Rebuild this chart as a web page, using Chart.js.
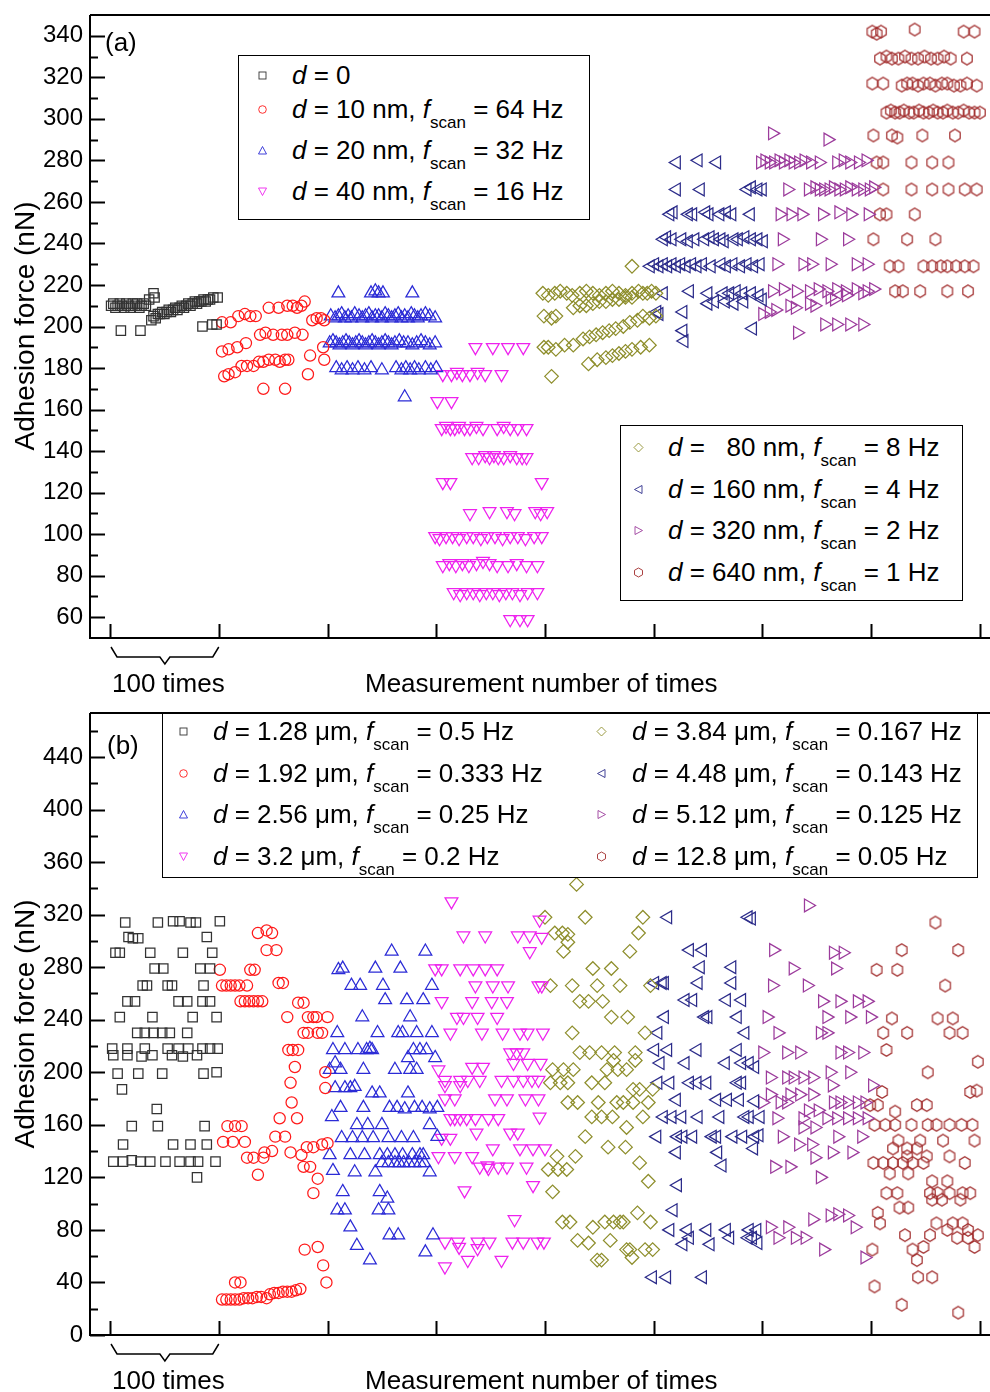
<!DOCTYPE html>
<html>
<head>
<meta charset="utf-8">
<script src="https://cdn.jsdelivr.net/npm/chart.js@4.4.1/dist/chart.umd.min.js"></script>
<style>
  body { margin: 0; background: #fff; width: 990px; height: 1392px; overflow: hidden; position: relative;
         font-family: "Liberation Sans", Arial, sans-serif; color: #000; }
  canvas { position: absolute; left: 0; }
  #ca { top: 0; }
  #cb { top: 700px; }
  .t { position: absolute; font-size: 26px; line-height: 26px; white-space: pre; }
  .box { position: absolute; border: 1.5px solid #000; background: #fff; box-sizing: border-box; }
  .row { position: absolute; font-size: 26px; line-height: 30px; height: 30px; white-space: pre; }
  .row sub { font-size: 17px; position: relative; top: 10px; vertical-align: baseline; }
  .mk { position: absolute; width: 11px; height: 11px; }
  .yt { position: absolute; width: 400px; height: 30px; line-height: 30px; font-size: 28px;
        text-align: center; transform: rotate(-90deg); white-space: pre; }
</style>
</head>
<body>
<canvas id="ca" width="990" height="700"></canvas>
<canvas id="cb" width="990" height="692"></canvas>

<div class="t" style="left:105px;top:29px">(a)</div>
<div class="t" style="left:107px;top:732px">(b)</div>
<div class="t" style="left:112px;top:670px">100 times</div>
<div class="t" style="left:365px;top:670px">Measurement number of times</div>
<div class="t" style="left:112px;top:1367px">100 times</div>
<div class="t" style="left:365px;top:1367px">Measurement number of times</div>
<div class="yt" style="left:-175px;top:311px">Adhesion force (nN)</div>
<div class="yt" style="left:-175px;top:1009px">Adhesion force (nN)</div>

<div id="legends"></div>

<script>
// ---- panel (a): [measurement index, adhesion force nN] ----
const a_d0 = [[1,210],[3,211],[5,209],[7,210],[9,211],[11,210],[13,209],[15,211],[17,210],[19,209],[21,211],[23,210],[25,211],[27,209],[29,210],[31,211],[33,210],
  [36,213],[40,216],[41,214],
  [38,203],[40,205],[42,204],[44,206],[46,206],[48,207],[50,206],[52,207],[54,208],[56,207],[58,208],[60,209],[62,208],[64,209],[66,210],[68,209],[70,210],[72,211],[74,210],[76,211],[78,212],[80,211],[82,212],[84,212],[86,213],[88,212],[90,213],[92,213],[95,214],[99,214],
  [10,198],[28,198],[85,200],[94,201],[98,201]];
const a_d10 = [[103,202],[111,202],[118,205],[124,206],[129,205],[134,205],[146,209],[155,209],[163,210],[168,210],[172,209],[176,210],[179,212],[186,203],[190,204],[194,204],[197,203],
  [103,188],[109,189],[117,190],[125,192],[138,196],[143,197],[150,196],[158,196],[163,196],[170,197],[177,196],[184,186],[196,190],
  [105,176],[109,177],[115,178],[121,181],[126,181],[132,181],[137,183],[141,183],[146,184],[152,184],[156,183],[161,184],[164,184],
  [141,170],[161,170],[182,177],[197,184]];
const a_d20 = [[210,216],[240,216],[244,217],[247,216],[251,216],[278,216],
  [203,205],[207,204],[210,205],[213,206],[216,204],[219,205],[222,204],[225,206],[229,205],[232,204],[235,205],[238,206],[241,204],[244,205],[247,205],[250,204],[253,206],[256,205],[259,204],[262,205],[265,206],[268,204],[271,205],[274,204],[277,206],[280,205],[283,204],[286,205],[290,206],[294,205],[299,204],
  [202,192],[205,193],[208,192],[211,191],[214,192],[217,193],[220,192],[223,191],[226,192],[229,193],[232,192],[235,191],[238,192],[241,193],[244,192],[247,191],[250,192],[253,193],[256,192],[259,191],[262,192],[266,193],[270,192],[274,192],[278,191],[282,192],[286,193],[290,192],[294,191],[299,192],
  [208,180],[213,179],[218,180],[223,179],[228,180],[234,179],[240,180],[250,179],[263,180],[268,179],[272,180],[276,179],[280,180],[284,179],[290,180],[295,179],[300,180],
  [271,166]];
const a_d40 = [[336,190],[352,190],[366,190],[380,190],
  [306,177],[314,177],[319,178],[324,177],[331,177],[338,178],[345,177],[360,177],
  [301,164],[314,164],
  [305,151],[309,152],[313,151],[317,151],[321,152],[326,151],[331,151],[337,152],[343,151],[356,151],[362,152],[368,151],[375,151],[383,151],
  [333,137],[339,137],[345,138],[349,137],[353,138],[357,137],[362,137],[368,138],[374,137],[379,137],[383,137],
  [306,125],[313,125],[397,125],
  [331,110],[349,111],[365,111],[372,110],[391,111],[396,110],[402,111],
  [299,99],[303,98],[309,99],[315,99],[321,98],[328,99],[334,99],[341,98],[347,99],[354,99],[361,98],[368,99],[375,99],[382,98],[390,99],[397,99],
  [306,85],[312,86],[318,85],[324,86],[330,85],[337,86],[343,87],[349,86],[356,85],[366,85],[374,86],[383,85],[393,85],
  [316,72],[322,71],[328,72],[334,72],[340,71],[346,72],[352,72],[358,71],[364,72],[370,72],[377,71],[384,72],[393,72],
  [368,59],[377,59],[384,59]];
const a_d80 = [[398,216],[403,215],[409,216],[414,217],[420,216],[425,215],[432,216],[438,217],[444,216],[450,215],[456,216],[462,217],[468,216],[474,215],[480,216],[486,217],[490,216],[494,216],[498,217],[502,216],
  [399,205],[406,204],[410,205],[426,209],[432,210],[438,210],[444,211],[450,212],[456,212],[462,213],[468,213],[474,214],[480,214],[490,205],[496,204],[502,205],
  [399,190],[403,190],[410,189],[418,191],[426,191],[435,194],[441,195],[447,196],[453,197],[459,198],[465,199],[472,200],[478,202],[485,203],
  [440,182],[448,184],[456,185],[462,186],[468,187],[474,188],[480,189],[488,190],[496,191],
  [406,176],[480,229]];
const a_d160 = [[521,279],[541,280],[558,279],
  [521,266],[543,266],[586,266],[590,267],[596,266],[600,266],
  [515,254],[518,255],[532,254],[536,254],[548,255],[551,254],[561,254],[567,255],[572,254],[589,254],
  [509,242],[512,243],[517,242],[526,242],[532,241],[538,242],[547,242],[552,243],[556,242],[562,242],[565,241],[574,242],[578,242],[584,243],[590,242],[596,242],[601,241],
  [497,229],[501,230],[505,229],[509,230],[513,229],[517,230],[521,229],[525,230],[530,229],[535,230],[540,229],[545,230],[553,229],[562,230],[567,229],[573,230],[580,229],[586,230],[592,229],[598,230],
  [509,216],[533,217],[550,216],[564,216],[570,216],[576,217],[582,216],[590,216],[597,215],
  [550,211],[556,212],[566,212],[574,211],[583,212],
  [503,207],[505,206],[527,207],[527,198],[528,193],[591,199],[600,213]];
const a_d320 = [[609,293],[660,290],
  [598,279],[602,280],[606,279],[610,279],[615,280],[619,279],[624,280],[628,279],[633,279],[638,280],[644,279],[652,279],[668,279],[674,280],[680,279],[688,279],[695,280],
  [623,266],[642,266],[648,267],[652,266],[656,266],[661,266],[665,267],[670,266],[675,266],[680,267],[686,266],[692,266],[698,266],[702,267],
  [616,254],[626,254],[636,254],[655,254],[670,255],[681,254],[697,254],
  [618,242],[653,242],[678,242],
  [613,230],[637,230],[645,230],[662,230],[686,230],[696,230],
  [609,217],[619,218],[631,217],[643,217],[651,218],[659,217],[668,218],[676,217],[686,218],[696,217],[702,218],
  [600,206],[606,207],[612,208],[625,210],[630,209],[643,211],[648,210],[662,214],[666,213],[677,215],[692,216],
  [657,201],[668,201],[680,201],[692,201],[632,197]];
const a_d640 = [[701,342],[705,341],[709,342],[740,343],[785,342],[795,342],
  [708,329],[714,330],[719,329],[725,329],[731,330],[737,329],[743,329],[749,330],[755,329],[761,329],[767,330],[773,329],[788,329],
  [701,317],[711,317],[728,316],[733,317],[738,317],[743,316],[748,317],[754,317],[759,316],[765,317],[770,317],[776,316],[782,316],[788,317],[797,316],
  [714,303],[718,304],[722,303],[726,303],[730,304],[735,303],[739,303],[744,304],[748,303],[753,303],[757,304],[761,303],[766,303],[770,304],[775,303],[780,303],[785,304],[790,303],[795,303],[800,303],
  [702,292],[719,292],[724,291],[747,292],[777,292],
  [705,279],[711,279],[737,279],[756,279],[771,279],
  [711,266],[737,266],[756,266],[771,266],[786,266],[797,266],
  [708,254],[714,254],[740,254],
  [702,242],[733,242],[759,242],
  [717,229],[725,229],[748,229],[756,229],[764,229],[770,229],[778,229],[786,229],[794,229],
  [722,217],[729,217],[745,217],[770,217],[789,217]];

// ---- panel (b) ----
const b_d128 = [[14,314],[44,314],[58,315],[64,315],[74,314],[79,314],[101,315],
  [17,303],[21,302],[26,302],[89,303],
  [5,291],[9,291],[37,291],[67,291],[94,291],
  [41,279],[49,279],[83,279],[92,279],
  [30,266],[34,266],[53,266],[57,266],[86,266],
  [16,254],[23,254],[63,254],[71,254],[85,254],[92,254],
  [9,242],[39,242],[76,242],[98,242],
  [25,230],[32,230],[40,230],[48,230],[55,230],[71,230],
  [2,218],[16,218],[32,218],[53,218],[63,218],[72,218],[85,218],[92,218],[99,218],
  [3,213],[16,213],[29,212],[39,213],[57,213],[67,212],[80,213],
  [7,199],[26,199],[48,199],[86,199],[98,200],
  [11,187],[43,172],
  [20,159],[44,159],[87,159],
  [12,145],[58,145],[74,145],[89,145],
  [3,132],[12,132],[20,133],[28,132],[37,132],[51,132],[64,132],[74,132],[81,132],[97,132],
  [80,120]];
const b_d192 = [[136,306],[144,308],[149,306],[144,293],[153,293],
  [101,278],[129,278],[133,278],
  [103,266],[107,266],[111,266],[115,266],[119,266],[126,266],[155,268],[159,268],
  [120,254],[124,254],[128,254],[132,254],[136,254],[140,254],[173,253],[178,253],
  [163,242],[182,242],[187,242],[190,242],[200,242],
  [178,230],[182,230],[191,230],[195,230],
  [164,217],[168,217],[173,217],
  [170,204],[198,200],[166,192],[198,188],[167,177],
  [156,165],[172,165],
  [108,159],[115,159],[121,159],
  [152,151],[161,151],
  [104,147],[113,147],[124,147],[200,146],
  [181,143],[187,143],[195,145],
  [142,139],[149,140],[166,139],[176,137],
  [126,135],[132,135],[141,135],
  [178,128],[184,128],
  [136,122],[191,119],[187,108],
  [179,65],[191,67],[196,53],[199,40],
  [115,40],[120,40],
  [103,27],[107,27],[111,27],[115,27],[119,27],[123,28],[127,28],[131,28],[135,29],[139,29],[144,28],
  [147,31],[151,32],[155,32],[159,33],[163,33],[167,33],[171,34],[175,35]];
const b_d256 = [[259,292],[290,292],
  [210,278],[214,279],[244,279],[267,279],
  [222,266],[230,266],[251,266],[296,266],
  [253,255],[273,255],[288,255],
  [232,242],[276,242],
  [209,230],[246,230],[265,230],[269,230],[282,230],[296,230],
  [205,217],[216,217],[228,217],[236,217],[239,218],[241,217],[279,217],[285,217],[291,217],
  [274,211],[299,211],
  [202,202],[207,207],[212,202],[233,202],[262,202],[276,202],[282,202],
  [207,188],[216,188],[221,188],[225,189],
  [241,184],[248,184],[274,184],
  [212,173],[233,173],[257,173],[264,173],[271,172],[280,173],[287,173],[294,172],[301,173],
  [204,166],
  [227,160],[237,160],[250,160],[294,160],
  [213,150],[223,150],[232,150],[242,150],[256,150],[268,150],[279,150],[301,151],
  [202,137],[221,137],[234,137],[248,137],[255,137],[262,137],[269,137],[278,137],[285,137],[288,137],
  [250,131],[256,131],[262,131],[266,131],[270,131],[275,131],[280,131],[285,131],[289,131],
  [205,125],[225,124],[244,124],[294,124],
  [214,109],[248,109],[255,104],
  [209,95],[216,95],[247,95],[256,95],
  [221,82],[257,76],[265,76],[297,76],[227,68],[290,63],[239,57]];
const b_d32 = [[314,330],
  [325,304],[345,304],[375,304],[386,304],
  [386,292],[397,303],[395,316],
  [299,279],[305,279],[322,279],[334,279],[345,279],[356,279],
  [336,266],[352,266],[366,266],[394,266],[397,266],
  [305,254],[333,254],[351,254],[365,254],
  [319,242],[325,242],[338,242],[356,242],
  [313,230],[342,230],[361,230],[377,230],[384,230],[398,230],
  [368,215],[374,215],[380,215],
  [371,207],[384,207],[396,207],
  [333,204],[343,204],[302,202],
  [308,194],[322,194],[329,194],[340,194],[360,194],[371,194],[380,194],[388,194],[394,194],
  [308,190],[322,190],
  [308,180],[317,180],[354,180],[365,180],[382,180],[394,180],
  [313,165],[317,165],[322,165],[328,165],[336,165],[348,165],[357,165],[395,166],
  [337,154],[368,154],[375,154],
  [305,150],[313,150],
  [352,142],[377,142],[389,142],[400,142],
  [302,136],[317,136],[333,136],
  [340,128],[347,129],[348,127],[357,128],[365,128],[383,128],
  [389,114],[326,110],[372,88],
  [308,71],[320,71],[338,71],[349,71],[370,71],[380,71],[393,71],[399,71],
  [321,67],[338,66],
  [329,57],[360,57],[308,52]];
const b_d384 = [[429,343],
  [400,318],[437,318],[490,318],
  [409,306],[416,306],[421,305],[486,306],
  [421,299],[417,292],[478,292],
  [444,279],[461,279],
  [405,266],[425,266],[448,266],[469,266],[497,266],
  [432,254],[440,254],[453,254],
  [461,242],[476,242],
  [425,230],[492,230],
  [432,215],[441,215],[452,215],[464,215],[483,215],
  [463,209],[483,209],
  [407,202],[417,202],[426,202],[457,202],[467,202],[475,202],
  [405,192],[414,192],[421,192],[443,192],[455,192],
  [481,187],[487,187],[499,187],
  [421,177],[430,177],[449,177],[466,177],[472,177],[481,177],[495,177],
  [443,166],[452,166],[462,166],[490,166],
  [475,158],[437,151],[458,143],[474,143],
  [411,136],[428,136],[487,131],
  [403,126],[412,126],[420,126],
  [495,117],[407,109],[485,93],
  [416,86],[423,86],[455,86],[463,86],[469,86],[472,86],[497,86],
  [444,82],[430,72],[460,72],[440,70],
  [475,65],[478,65],[492,65],[499,65],[480,59],
  [448,57],[452,57]];
const b_d448 = [[513,318],[587,318],[590,317],
  [533,293],[545,293],
  [543,280],[572,280],
  [501,268],[508,268],[510,268],[541,268],[572,268],
  [529,255],[536,255],[567,255],[581,255],
  [510,242],[547,242],[550,242],[577,242],
  [504,230],[584,230],
  [501,217],[513,217],[540,217],[577,217],
  [506,207],[529,207],[566,207],[581,207],[588,207],[593,204],
  [504,192],[515,192],[533,192],[540,192],[549,192],[577,192],[581,192],
  [521,179],[558,179],[568,179],[579,179],[593,178],
  [509,166],[517,166],[526,166],[541,166],[561,166],[584,166],[588,166],[598,166],
  [503,151],[522,151],[527,151],[536,151],[554,151],[558,151],[573,151],[582,151],[593,151],[597,152],
  [592,142],[521,139],[559,139],[563,129],
  [522,114],[518,95],
  [515,80],[531,80],[549,80],[567,80],[588,80],[595,80],
  [533,74],[570,74],[587,74],[591,74],[596,70],
  [527,69],[552,69],
  [499,44],[512,44],[545,44]];
const b_d512 = [[642,327],
  [610,293],[665,291],[674,291],
  [628,279],[667,279],
  [609,266],[641,266],
  [655,254],[671,254],[687,254],[696,254],
  [604,242],[659,242],[680,242],[699,242],
  [614,230],[653,230],[659,230],
  [600,215],[622,215],[634,215],[671,215],[678,215],[692,215],
  [662,200],[680,200],
  [607,196],[622,196],[628,196],[637,196],[646,196],
  [664,190],[701,190],
  [607,183],[625,183],[634,183],[646,183],
  [600,177],[616,177],[622,177],[665,177],[671,177],[678,177],[687,177],[694,177],
  [642,171],[651,171],
  [613,165],[637,165],[659,165],[668,165],[678,165],[687,165],[696,165],
  [637,158],[648,158],
  [618,151],[669,151],[691,151],
  [633,145],[645,145],
  [664,139],[682,139],[648,135],
  [611,128],[625,128],[653,120],
  [662,91],[669,92],[678,91],[646,88],
  [607,82],[623,82],[685,82],
  [614,74],[630,74],[639,74],
  [656,65],[694,59]];
const b_d1280 = [[759,314],
  [728,293],[780,293],
  [705,278],[724,278],
  [768,266],
  [719,241],[761,241],[775,241],
  [711,230],[733,230],[772,230],[784,230],
  [714,217],[798,208],[752,200],
  [710,185],[791,185],[797,186],
  [699,175],[706,175],[742,175],[751,175],
  [722,170],
  [703,160],[713,160],[722,160],[737,160],[752,160],[760,160],[772,160],[783,160],[793,160],
  [725,148],[745,148],[766,148],[795,148],
  [720,142],[733,142],[742,142],
  [733,136],[751,136],[772,136],
  [702,131],[711,131],[720,131],[729,131],[738,131],[748,131],[786,131],
  [717,123],[734,123],
  [756,117],[770,117],
  [714,108],[724,108],[754,108],[761,108],[772,108],[784,108],[791,108],
  [756,103],[765,103],[782,103],
  [726,97],[734,97],[706,93],
  [708,85],[760,85],[775,85],[784,85],
  [770,80],[789,80],
  [731,76],[754,76],[798,76],
  [779,74],[789,74],
  [748,67],[795,67],
  [738,65],[701,65],[742,57],
  [743,44],[756,44],[703,37],[728,23],[780,17]];

// ---- axes ----
const xTicks = [0, 100, 200, 300, 400, 500, 600, 700, 800];
const yMajorA = [60, 80, 100, 120, 140, 160, 180, 200, 220, 240, 260, 280, 300, 320, 340];
const yMinorA = [70, 90, 110, 130, 150, 170, 190, 210, 230, 250, 270, 290, 310, 330];
const yMajorB = [0, 40, 80, 120, 160, 200, 240, 280, 320, 360, 400, 440];
const yMinorB = [20, 60, 100, 140, 180, 220, 260, 300, 340, 380, 420, 460];

const COL = {
  black: '#333333', red: '#ff1a1a', blue: '#2b2bd6', magenta: '#ee22ee',
  olive: '#8e8e2c', navy: '#2c2c8a', purple: '#9c3c9c', brown: '#a02a2a'
};

function hexagon(color) {
  const c = document.createElement('canvas');
  c.width = 16; c.height = 16;
  const g = c.getContext('2d');
  g.strokeStyle = color; g.lineWidth = 1.2;
  g.beginPath();
  for (let i = 0; i < 6; i++) {
    const a = -Math.PI / 2 + i * Math.PI / 3;
    const px = 8 + 6 * Math.cos(a), py = 8 + 6.2 * Math.sin(a);
    if (i === 0) g.moveTo(px, py); else g.lineTo(px, py);
  }
  g.closePath();
  g.stroke();
  return c;
}

const STYLE = {
  sq: { pointStyle: 'rect', rotation: 0, pointRadius: 6.6 },
  ci: { pointStyle: 'circle', rotation: 0, pointRadius: 5.6 },
  up: { pointStyle: 'triangle', rotation: 0, pointRadius: 7.4 },
  dn: { pointStyle: 'triangle', rotation: 180, pointRadius: 7.4 },
  di: { pointStyle: 'rectRot', rotation: 0, pointRadius: 6.8 },
  lt: { pointStyle: 'triangle', rotation: -90, pointRadius: 7.4 },
  rt: { pointStyle: 'triangle', rotation: 90, pointRadius: 7.4 },
  hx: { pointStyle: hexagon(COL.brown), rotation: 0, pointRadius: 6 }
};

function ds(pts, shape, color) {
  return Object.assign({
    data: pts.map(p => ({ x: p[0], y: p[1] })),
    borderColor: color,
    backgroundColor: 'rgba(0,0,0,0)',
    borderWidth: 1.25,
    showLine: false
  }, STYLE[shape]);
}

// axis frame, inward ticks and the "100 times" brace
const frame = {
  id: 'frame',
  afterDraw(chart, args, o) {
    const { ctx, chartArea: a } = chart;
    const x = chart.scales.x, y = chart.scales.y;
    ctx.save();
    ctx.strokeStyle = '#000';
    ctx.lineWidth = 2;
    ctx.beginPath();
    ctx.moveTo(a.left, a.top); ctx.lineTo(a.right, a.top);
    ctx.moveTo(a.left, a.top); ctx.lineTo(a.left, a.bottom); ctx.lineTo(a.right, a.bottom);
    for (const v of xTicks) {
      const px = Math.round(x.getPixelForValue(v)) + 0.5;
      ctx.moveTo(px, a.bottom); ctx.lineTo(px, a.bottom - 14);
    }
    for (const v of o.major) {
      const py = Math.round(y.getPixelForValue(v)) + 0.5;
      ctx.moveTo(a.left, py); ctx.lineTo(a.left + 15, py);
    }
    for (const v of o.minor) {
      const py = Math.round(y.getPixelForValue(v)) + 0.5;
      ctx.moveTo(a.left, py); ctx.lineTo(a.left + 8, py);
    }
    ctx.stroke();

    const x0 = x.getPixelForValue(0) + 1, x1 = x.getPixelForValue(100);
    const xm = (x0 + x1) / 2, yb = a.bottom + 9;
    ctx.lineWidth = 1.5;
    ctx.beginPath();
    ctx.moveTo(x0, yb);
    ctx.lineTo(x0 + 6, yb + 10);
    ctx.lineTo(xm - 5, yb + 10);
    ctx.lineTo(xm, yb + 17);
    ctx.lineTo(xm + 5, yb + 10);
    ctx.lineTo(x1 - 6, yb + 10);
    ctx.lineTo(x1, yb);
    ctx.stroke();
    ctx.restore();
  }
};

function makeChart(id, datasets, yMin, yMax, step, labelOk, major, minor, padTop, padBottom) {
  return new Chart(document.getElementById(id), {
    type: 'scatter',
    data: { datasets },
    options: {
      responsive: false,
      animation: false,
      events: [],
      layout: { autoPadding: false, padding: { top: padTop, bottom: padBottom, left: 0, right: 0 } },
      plugins: { legend: { display: false }, tooltip: { enabled: false }, frame: { major, minor } },
      scales: {
        x: { type: 'linear', display: false, min: -18.4, max: 809.2 },
        y: {
          type: 'linear', min: yMin, max: yMax,
          grid: { display: false, drawTicks: false },
          border: { display: false },
          afterFit(s) { s.width = 90; s.paddingTop = 0; s.paddingBottom = 0; },
          ticks: {
            stepSize: step, autoSkip: false, padding: 7, color: '#000',
            font: { family: 'Liberation Sans, Arial, sans-serif', size: 24 },
            callback: v => labelOk(v) ? String(v) : ''
          }
        }
      }
    },
    plugins: [frame]
  });
}

makeChart('ca', [
  ds(a_d0, 'sq', COL.black), ds(a_d10, 'ci', COL.red), ds(a_d20, 'up', COL.blue),
  ds(a_d40, 'dn', COL.magenta), ds(a_d80, 'di', COL.olive), ds(a_d160, 'lt', COL.navy),
  ds(a_d320, 'rt', COL.purple), ds(a_d640, 'hx', COL.brown)
], 50, 350, 10, v => yMajorA.includes(v), yMajorA, yMinorA, 15, 62);

makeChart('cb', [
  ds(b_d128, 'sq', COL.black), ds(b_d192, 'ci', COL.red), ds(b_d256, 'up', COL.blue),
  ds(b_d32, 'dn', COL.magenta), ds(b_d384, 'di', COL.olive), ds(b_d448, 'lt', COL.navy),
  ds(b_d512, 'rt', COL.purple), ds(b_d1280, 'hx', COL.brown)
], 0, 473.5, 20, v => yMajorB.includes(v), yMajorB, yMinorB, 13, 57);

// ---- legends (HTML text, small svg markers) ----
const SVG = {
  sq: '<rect x="2" y="2" width="7" height="7"/>',
  ci: '<circle cx="5.5" cy="5.5" r="3.8"/>',
  up: '<polygon points="5.5,1.5 9.5,9 1.5,9"/>',
  dn: '<polygon points="1.5,2 9.5,2 5.5,9.5"/>',
  di: '<polygon points="5.5,1 10,5.5 5.5,10 1,5.5"/>',
  lt: '<polygon points="1.5,5.5 9,1.5 9,9.5"/>',
  rt: '<polygon points="2,1.5 9.5,5.5 2,9.5"/>',
  hx: '<polygon points="5.5,1 9.5,3.25 9.5,7.75 5.5,10 1.5,7.75 1.5,3.25"/>'
};
const legendRows = [
  // [marker x, text x, centre y, shape, colour, html]
  [262, 292, 75, 'sq', COL.black, '<i>d</i> = 0'],
  [262, 292, 109, 'ci', COL.red, '<i>d</i> = 10 nm, <i>f</i><sub>scan</sub> = 64 Hz'],
  [262, 292, 150, 'up', COL.blue, '<i>d</i> = 20 nm, <i>f</i><sub>scan</sub> = 32 Hz'],
  [262, 292, 191, 'dn', COL.magenta, '<i>d</i> = 40 nm, <i>f</i><sub>scan</sub> = 16 Hz'],
  [638, 668, 447, 'di', COL.olive, '<i>d</i> =   80 nm, <i>f</i><sub>scan</sub> = 8 Hz'],
  [638, 668, 489, 'lt', COL.navy, '<i>d</i> = 160 nm, <i>f</i><sub>scan</sub> = 4 Hz'],
  [638, 668, 530, 'rt', COL.purple, '<i>d</i> = 320 nm, <i>f</i><sub>scan</sub> = 2 Hz'],
  [638, 668, 572, 'hx', COL.brown, '<i>d</i> = 640 nm, <i>f</i><sub>scan</sub> = 1 Hz'],
  [183, 213, 731, 'sq', COL.black, '<i>d</i> = 1.28 μm, <i>f</i><sub>scan</sub> = 0.5 Hz'],
  [183, 213, 773, 'ci', COL.red, '<i>d</i> = 1.92 μm, <i>f</i><sub>scan</sub> = 0.333 Hz'],
  [183, 213, 814, 'up', COL.blue, '<i>d</i> = 2.56 μm, <i>f</i><sub>scan</sub> = 0.25 Hz'],
  [183, 213, 856, 'dn', COL.magenta, '<i>d</i> = 3.2 μm, <i>f</i><sub>scan</sub> = 0.2 Hz'],
  [601, 632, 731, 'di', COL.olive, '<i>d</i> = 3.84 μm, <i>f</i><sub>scan</sub> = 0.167 Hz'],
  [601, 632, 773, 'lt', COL.navy, '<i>d</i> = 4.48 μm, <i>f</i><sub>scan</sub> = 0.143 Hz'],
  [601, 632, 814, 'rt', COL.purple, '<i>d</i> = 5.12 μm, <i>f</i><sub>scan</sub> = 0.125 Hz'],
  [601, 632, 856, 'hx', COL.brown, '<i>d</i> = 12.8 μm, <i>f</i><sub>scan</sub> = 0.05 Hz']
];
const legendBoxes = [[238, 55, 352, 165], [620, 425, 343, 176], [162, 713, 816, 165]];

let html = '';
for (const b of legendBoxes) {
  html += `<div class="box" style="left:${b[0]}px;top:${b[1]}px;width:${b[2]}px;height:${b[3]}px"></div>`;
}
for (const r of legendRows) {
  html += `<svg class="mk" style="left:${r[0] - 5.5}px;top:${r[2] - 5.5}px" viewBox="0 0 11 11">` +
          `<g fill="none" stroke="${r[4]}" stroke-width="0.9">${SVG[r[3]]}</g></svg>`;
  html += `<div class="row" style="left:${r[1]}px;top:${r[2] - 15}px">${r[5]}</div>`;
}
document.getElementById('legends').innerHTML = html;
</script>
</body>
</html>
